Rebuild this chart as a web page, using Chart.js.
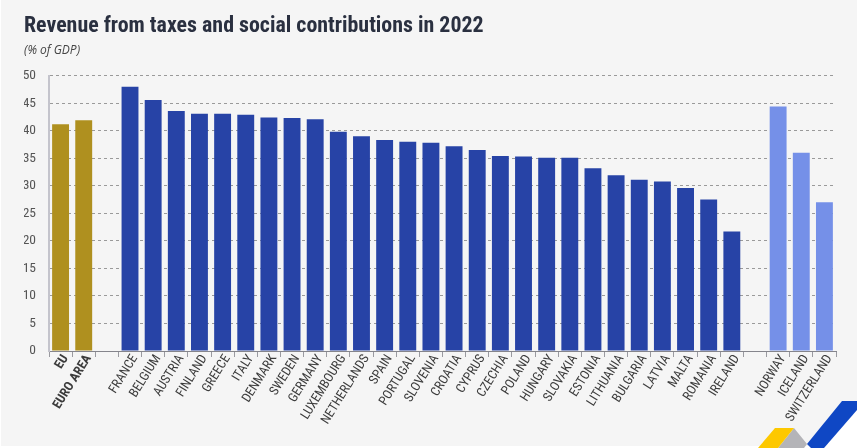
<!DOCTYPE html>
<html>
<head>
<meta charset="utf-8">
<script src="https://cdn.jsdelivr.net/npm/chart.js@4"></script>
<style>
    html, body { margin: 0; padding: 0; background: #fff; }
    #wrap { position: relative; width: 857px; height: 448px; overflow: hidden; }
    #bg { position: absolute; left: 1px; top: 0; width: 856px; height: 446px; background: #f5f5f5; }
    #chart { position: absolute; left: 0; top: 0; }
    #logo { position: absolute; left: 0; top: 0; }
</style>
</head>
<body>
<div id="wrap">
    <div id="bg"></div>
    <canvas id="chart" width="857" height="448"></canvas>
    <svg id="logo" width="857" height="448">
        <polygon points="857,410 824,448 857,448" fill="#fff"/>
        <polygon points="794,428 807,444 804,448 778,448" fill="#b4b4b8"/>
        <polygon points="758,448 775,428 794,428 778,448" fill="#fdc800"/>
        <polygon points="842,401 857,401 857,410 824,448 811,448 807,444" fill="#0f47c4"/>
    </svg>
</div>
<script>
const FONT = '"Roboto Condensed", "Open Sans", sans-serif';

const categories = ['EU', 'EURO AREA', '', 'FRANCE', 'BELGIUM', 'AUSTRIA', 'FINLAND', 'GREECE', 'ITALY', 'DENMARK', 'SWEDEN',
    'GERMANY', 'LUXEMBOURG', 'NETHERLANDS', 'SPAIN', 'PORTUGAL', 'SLOVENIA', 'CROATIA', 'CYPRUS', 'CZECHIA', 'POLAND',
    'HUNGARY', 'SLOVAKIA', 'ESTONIA', 'LITHUANIA', 'BULGARIA', 'LATVIA', 'MALTA', 'ROMANIA', 'IRELAND', ' ',
    'NORWAY', 'ICELAND', 'SWITZERLAND'];

const revenue = [41.2, 41.9, null, 48.0, 45.6, 43.6, 43.1, 43.1, 42.9, 42.4, 42.3,
    42.1, 39.8, 39.0, 38.3, 38.0, 37.8, 37.2, 36.5, 35.4, 35.3,
    35.1, 35.1, 33.2, 31.9, 31.1, 30.8, 29.6, 27.5, 21.7, null,
    44.4, 36.0, 27.0];

const GOLD = '#af901f', BLUE = '#2743a6', LIGHT = '#7590e8';

function barColor(i) {
    if (i < 2) return GOLD;
    if (i > 30) return LIGHT;
    return BLUE;
}

new Chart(document.getElementById('chart'), {
    type: 'bar',
    data: {
        labels: categories,
        datasets: [{
            data: revenue,
            backgroundColor: categories.map((c, i) => barColor(i)),
            barPercentage: 0.73,
            categoryPercentage: 1
        }]
    },
    options: {
        responsive: false,
        animation: false,
        layout: { padding: { left: 24, right: 21, top: 13, bottom: 0 } },
        plugins: {
            legend: { display: false },
            tooltip: { enabled: false },
            title: {
                display: true,
                text: 'Revenue from taxes and social contributions in 2022',
                align: 'start',
                color: '#2a3040',
                font: { family: FONT, size: 21.9, weight: 'bold' },
                padding: { top: 0, bottom: 4 }
            },
            subtitle: {
                display: true,
                text: '(% of GDP)',
                align: 'start',
                color: '#444',
                font: { family: '"Open Sans", sans-serif', size: 12, style: 'italic' },
                padding: { top: 0, bottom: 18 }
            }
        },
        scales: {
            x: {
                grid: {
                    drawOnChartArea: false,
                    offset: true,
                    color: '#9a9aa0',
                    tickLength: 6
                },
                border: { color: '#85858c', width: 1 },
                ticks: {
                    autoSkip: false,
                    minRotation: 58,
                    maxRotation: 58,
                    padding: -5,
                    labelOffset: 5,
                    color: '#3c3c3c',
                    font: (ctx) => ({ family: FONT, size: 13, weight: ctx.index < 2 ? 'bold' : 'normal' })
                },
                afterFit: (scale) => { scale.height = 97; }
            },
            y: {
                min: 0,
                max: 50,
                grid: {
                    color: '#9a9a9a',
                    drawTicks: false
                },
                border: { color: '#c4c4cc', width: 2, dash: [3, 3] },
                ticks: {
                    stepSize: 5,
                    padding: 13,
                    color: '#555',
                    font: { family: FONT, size: 13.5 }
                },
                afterFit: (scale) => { scale.width = 25; }
            }
        }
    }
});
</script>
</body>
</html>
